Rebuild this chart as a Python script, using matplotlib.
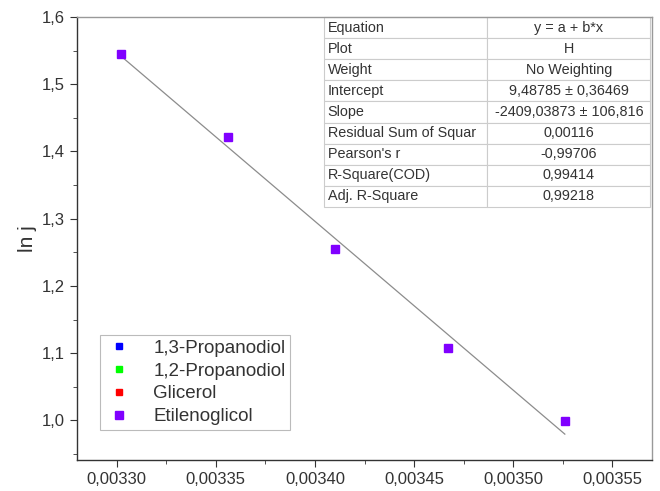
import numpy as np
import matplotlib
matplotlib.use("Agg")
import matplotlib.pyplot as plt
from matplotlib.ticker import MultipleLocator, FuncFormatter

plt.rcParams['font.family'] = ['Liberation Sans', 'DejaVu Sans']

# data
inv_t = [0.003302, 0.003356, 0.003410, 0.003467, 0.003526]
ln_j = [1.545, 1.421, 1.255, 1.107, 0.999]

series_names = ['1,3-Propanodiol', '1,2-Propanodiol', 'Glicerol', 'Etilenoglicol']
series_colors = ['#0000ff', '#00ff00', '#ff0000', '#8000ff']

fit_rows = ['Equation', 'Plot', 'Weight', 'Intercept', 'Slope',
            'Residual Sum of Squar', "Pearson's r", 'R-Square(COD)', 'Adj. R-Square']
fit_vals = ['y = a + b*x', 'H', 'No Weighting', '9,48785 \u00b1 0,36469',
            '-2409,03873 \u00b1 106,816', '0,00116', '-0,99706', '0,99414', '0,99218']

fig = plt.figure(figsize=(6.6, 4.91), dpi=100)
ax = fig.add_axes([0.1167, 0.0631, 0.8713, 0.9023])

# empty series only appear in the legend
for name, col in zip(series_names[:3], series_colors[:3]):
    ax.plot([], [], 's', color=col, markersize=5, label=name)
ax.plot(inv_t, ln_j, 's', color=series_colors[3], markersize=6, label=series_names[3], zorder=3)

# linear fit line
b, a = np.polyfit(inv_t, ln_j, 1)
xx = np.array([min(inv_t), max(inv_t)])
ax.plot(xx, a + b * xx, color='#8c8c8c', lw=0.9, zorder=2)

ax.set_xlim(0.003280, 0.003570)
ax.set_ylim(0.941, 1.6)
ax.xaxis.set_major_locator(MultipleLocator(0.00005))
ax.xaxis.set_minor_locator(MultipleLocator(0.000025))
ax.yaxis.set_major_locator(MultipleLocator(0.1))
ax.yaxis.set_minor_locator(MultipleLocator(0.05))
ax.xaxis.set_major_formatter(FuncFormatter(lambda v, p: f"{v:.5f}".replace('.', ',')))
ax.yaxis.set_major_formatter(FuncFormatter(lambda v, p: f"{v:.1f}".replace('.', ',')))
ax.tick_params(which='both', direction='out', top=False, right=False, color='#333333')
ax.tick_params(which='major', length=5, labelsize=12, labelcolor='#333333')
ax.tick_params(which='minor', length=3)
for s in ax.spines.values():
    s.set_color('#333333')
    s.set_linewidth(1.0)
ax.spines['top'].set_color('#999999')
ax.spines['right'].set_color('#999999')

ax.set_ylabel('ln j', fontsize=15, color='#333333', labelpad=4)

leg = ax.legend(loc='lower left', bbox_to_anchor=(0.04, 0.068), fontsize=13.5,
                frameon=True, fancybox=False, edgecolor='#aaaaaa', borderaxespad=0,
                handletextpad=1.1, labelspacing=0.3, borderpad=0.25, handlelength=1.5)
leg.get_frame().set_linewidth(0.8)
for t in leg.get_texts():
    t.set_color('#333333')

tbl = ax.table(cellText=[[r, v] for r, v in zip(fit_rows, fit_vals)],
               bbox=[0.43, 0.571, 0.567, 0.429], cellLoc='center')
tbl.auto_set_font_size(False)
tbl.set_fontsize(10.4)
for (r, c), cell in tbl.get_celld().items():
    cell.set_edgecolor('#cccccc')
    cell.set_linewidth(0.8)
    cell.get_text().set_color('#333333')
    if c == 0:
        cell.get_text().set_ha('left')
        cell._loc = 'left'
        cell.PAD = 0.02

fig.savefig('out.png', dpi=100)
